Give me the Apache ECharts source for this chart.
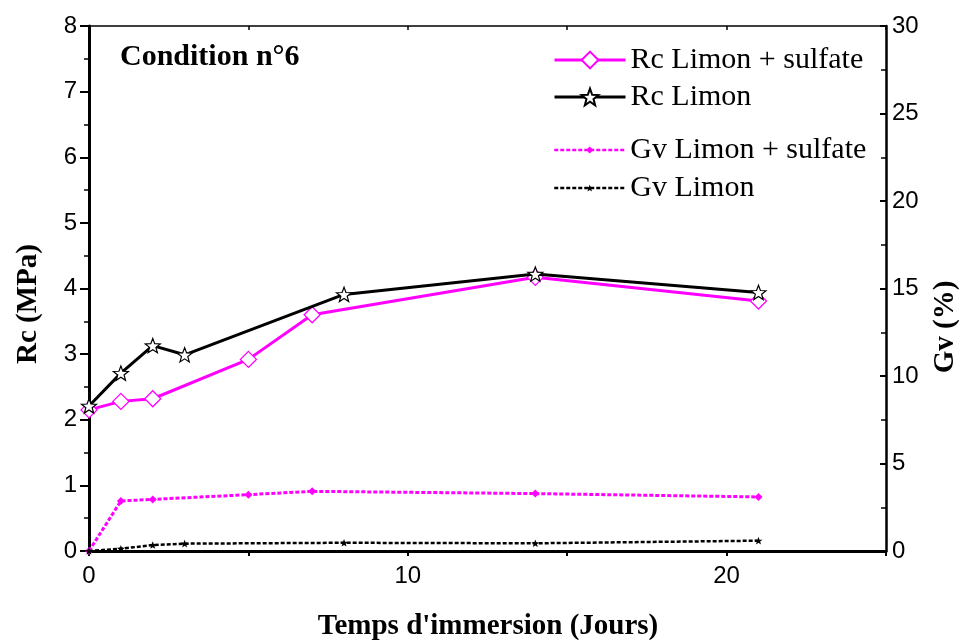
<!DOCTYPE html>
<html>
<head>
<meta charset="utf-8">
<script src="https://cdn.jsdelivr.net/npm/echarts@6/dist/echarts.min.js"></script>
<style>
html,body{margin:0;padding:0;background:#fff;}
#chart{width:961px;height:643px;}
</style>
</head>
<body>
<div id="chart"></div>
<script>
// ---- Data ----
var rcSulfateDays = [0, 1, 2, 5, 7, 14, 21];
var rcSulfateValues = [2.15, 2.28, 2.32, 2.92, 3.60, 4.17, 3.81];
var rcLimonDays = [0, 1, 2, 3, 8, 14, 21];
var rcLimonValues = [2.21, 2.71, 3.13, 2.99, 3.91, 4.22, 3.94];
var gvSulfateDays = [0, 1, 2, 5, 7, 14, 21];
var gvSulfateValues = [0, 2.86, 2.95, 3.22, 3.41, 3.28, 3.09];
var gvLimonDays = [0, 1, 2, 3, 8, 14, 21];
var gvLimonValues = [0, 0.13, 0.34, 0.42, 0.47, 0.44, 0.59];

var seriesNames = ['Rc Limon + sulfate', 'Rc Limon', 'Gv Limon + sulfate', 'Gv Limon'];
var xTitle = "Temps d'immersion (Jours)";
var yLeftTitle = 'Rc (MPa)';
var yRightTitle = 'Gv (%)';
var panelTitle = 'Condition n°6';

function pairs(xs, ys) { return xs.map(function (x, i) { return [x, ys[i]]; }); }

var MAGENTA = '#ff00ff';
var STAR = 'path://M50 0L62.34 33.01L97.55 34.55L69.97 56.49L79.39 90.45L50 71L20.61 90.45L30.03 56.49L2.45 34.55L37.66 33.01Z';
var tickFont = { color: '#000', fontFamily: 'Liberation Sans', fontSize: 24 };

var chart = echarts.init(document.getElementById('chart'), null, { renderer: 'canvas' });
chart.setOption({
  animation: false,
  backgroundColor: '#fff',
  grid: { left: 89, right: 75, top: 26, bottom: 92, containLabel: false },
  xAxis: [{
    type: 'value', position: 'bottom', min: 0, max: 25, interval: 5,
    axisLine: { show: true, onZero: false, lineStyle: { color: '#000', width: 3 } },
    axisTick: { show: true, inside: false, length: 5, lineStyle: { color: '#000', width: 2 } },
    axisLabel: Object.assign({ margin: 13, formatter: function (v) { return v % 10 === 0 ? String(v) : ''; } }, tickFont),
    splitLine: { show: false }
  }, {
    type: 'value', position: 'top', min: 0, max: 25, interval: 5,
    axisLine: { show: true, onZero: false, lineStyle: { color: '#000', width: 1.5 } },
    axisTick: { show: true, inside: true, length: 4, lineStyle: { color: '#000', width: 1.5 } },
    axisLabel: { show: false },
    splitLine: { show: false }
  }],
  yAxis: [{
    type: 'value', position: 'left', min: 0, max: 8, interval: 1,
    axisLine: { show: true, onZero: false, lineStyle: { color: '#000', width: 3 } },
    axisTick: { show: true, inside: false, length: 9, lineStyle: { color: '#000', width: 2 } },
    minorTick: { show: true, splitNumber: 2, length: 5, lineStyle: { color: '#000', width: 1.5 } },
    axisLabel: Object.assign({ margin: 12 }, tickFont),
    splitLine: { show: false }, minorSplitLine: { show: false }
  }, {
    type: 'value', position: 'right', min: 0, max: 30, interval: 5,
    axisLine: { show: true, onZero: false, lineStyle: { color: '#000', width: 2.5 } },
    axisTick: { show: true, inside: true, length: 6, lineStyle: { color: '#000', width: 2 } },
    minorTick: { show: true, splitNumber: 2, length: 5, lineStyle: { color: '#000', width: 1.5 } },
    axisLabel: Object.assign({ margin: 6 }, tickFont),
    splitLine: { show: false }, minorSplitLine: { show: false }
  }],
  legend: [{
    data: [seriesNames[0], seriesNames[1]],
    orient: 'vertical', left: 553, top: 45, padding: 0,
    itemWidth: 71, itemHeight: 21, itemGap: 7,
    lineStyle: { width: 3 },
    textStyle: { color: '#000', fontFamily: 'Liberation Serif', fontSize: 30, lineHeight: 30 }
  }, {
    data: [seriesNames[2], seriesNames[3]],
    orient: 'vertical', left: 553, top: 135, padding: 0,
    itemWidth: 71, itemHeight: 9, itemGap: 8,
    lineStyle: { width: 2.5 },
    textStyle: { color: '#000', fontFamily: 'Liberation Serif', fontSize: 30, lineHeight: 30 }
  }],
  graphic: [
    { type: 'text', x: 120, y: 57, style: { text: panelTitle, font: 'bold 30px "Liberation Serif"', fill: '#000', align: 'left', verticalAlign: 'middle' } },
    { type: 'text', x: 488, y: 627, style: { text: xTitle, font: 'bold 29px "Liberation Serif"', fill: '#000', align: 'center', verticalAlign: 'middle' } },
    { type: 'text', x: 29, y: 304, rotation: Math.PI / 2, style: { text: yLeftTitle, font: 'bold 29px "Liberation Serif"', fill: '#000', align: 'center', verticalAlign: 'middle' } },
    { type: 'text', x: 946, y: 327, rotation: Math.PI / 2, style: { text: yRightTitle, font: 'bold 29px "Liberation Serif"', fill: '#000', align: 'center', verticalAlign: 'middle' } }
  ],
  series: [{
    name: seriesNames[0], type: 'line', xAxisIndex: 0, yAxisIndex: 0,
    data: pairs(rcSulfateDays, rcSulfateValues),
    symbol: 'diamond', symbolSize: 16, showAllSymbol: true,
    lineStyle: { color: MAGENTA, width: 3 },
    itemStyle: { color: '#fff', borderColor: MAGENTA, borderWidth: 1.3 },
    z: 2
  }, {
    name: seriesNames[1], type: 'line', xAxisIndex: 0, yAxisIndex: 0,
    data: pairs(rcLimonDays, rcLimonValues),
    symbol: STAR, symbolSize: 15, symbolKeepAspect: true, showAllSymbol: true,
    lineStyle: { color: '#000', width: 3 },
    itemStyle: { color: '#fff', borderColor: '#000', borderWidth: 1.2 },
    z: 3
  }, {
    name: seriesNames[2], type: 'line', xAxisIndex: 0, yAxisIndex: 1,
    data: pairs(gvSulfateDays, gvSulfateValues),
    symbol: 'diamond', symbolSize: 8, showAllSymbol: true,
    lineStyle: { color: MAGENTA, width: 3, type: [4, 2] },
    itemStyle: { color: MAGENTA, borderColor: MAGENTA, borderWidth: 0 },
    z: 2
  }, {
    name: seriesNames[3], type: 'line', xAxisIndex: 0, yAxisIndex: 1,
    data: pairs(gvLimonDays, gvLimonValues),
    symbol: STAR, symbolSize: 8, symbolKeepAspect: true, showAllSymbol: true,
    lineStyle: { color: '#000', width: 2.5, type: [4, 2] },
    itemStyle: { color: '#000', borderColor: '#000', borderWidth: 0 },
    z: 3
  }]
});
</script>
</body>
</html>
